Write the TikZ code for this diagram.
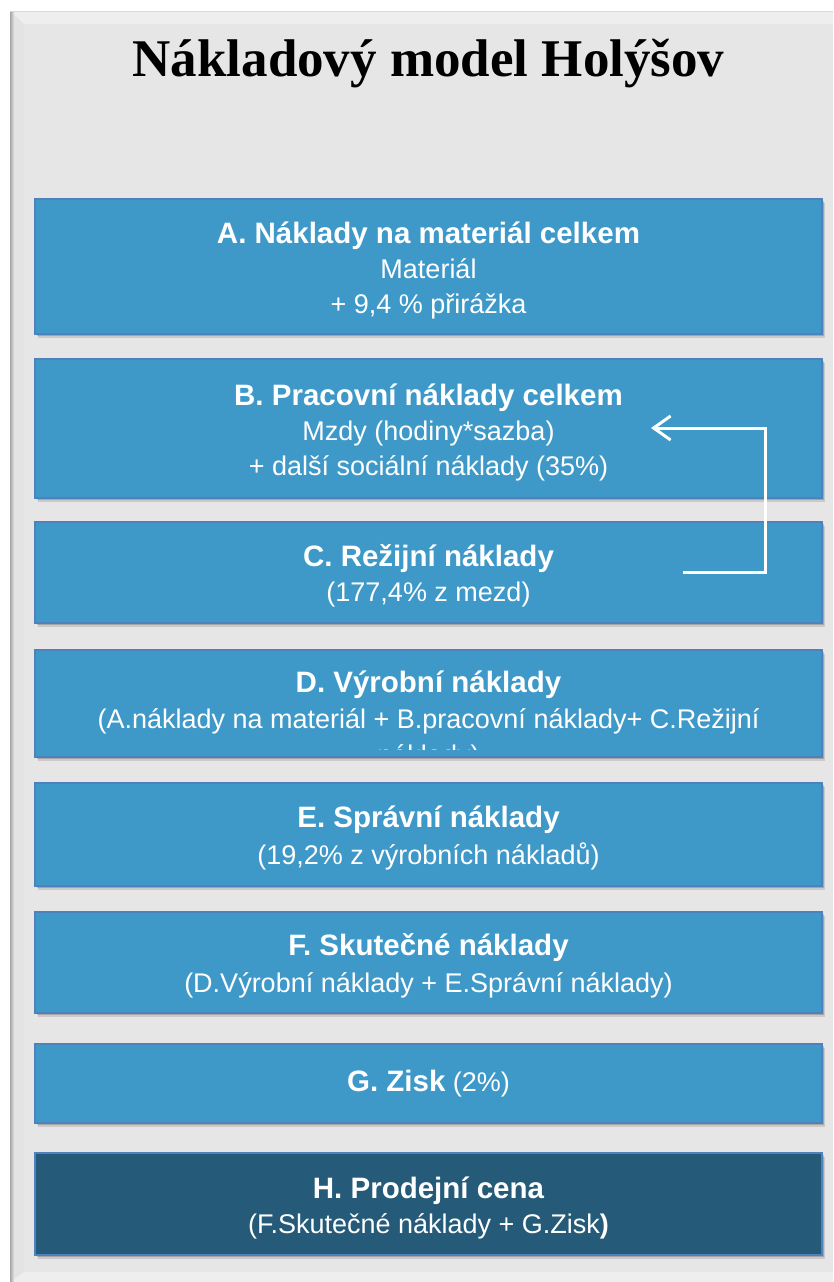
\documentclass[tikz,border=0pt]{standalone}
\usepackage{fontspec}
\setmainfont{Liberation Sans}
\newfontfamily\titlefont{Liberation Serif}
\usetikzlibrary{arrows.meta,shadows}

\definecolor{panelgray}{HTML}{E6E6E6}
\definecolor{bevellight}{HTML}{EEEEEE}
\definecolor{bevelside}{HTML}{E3E3E3}
\definecolor{boxblue}{HTML}{3E99C9}
\definecolor{boxedge}{HTML}{4F81BD}
\definecolor{boxdark}{HTML}{255B79}

% heading line inside a cost box; the strut fixes the height of the first line
\newcommand\boxhead[1]{{\fontsize{29.5}{35}\selectfont\bfseries\rule{0pt}{29pt}#1}}
\newcommand\boxheadplain[1]{{\fontsize{29.5}{35}\selectfont\bfseries #1}}

\begin{document}
\begin{tikzpicture}[x=1pt,y=-1pt,
  costbox/.style={draw=boxedge, line width=1.3pt, fill=boxblue, text=white,
    minimum width=787pt, inner sep=0pt, align=center,
    font=\fontsize{27}{35}\selectfont,
    drop shadow={shadow xshift=3pt, shadow yshift=-4pt, opacity=0.12, fill=black},
    drop shadow={shadow xshift=1.5pt, shadow yshift=-2pt, opacity=0.18, fill=black}},
  pricebox/.style={costbox, fill=boxdark},
  fbarrow/.style={draw=white, line width=3pt,
    -{Straight Barb[length=17pt, width=24pt, line width=3pt]}}
]
\useasboundingbox (0,0) rectangle (833,1282);

% page and bevelled panel
\fill[white] (0,0) rectangle (833,1282);
\fill[panelgray] (10,11) rectangle (833,1282);
\fill[bevellight] (10,11) -- (833,11) -- (833,24) -- (24,24) -- cycle;
\fill[bevelside] (10,11) -- (24,24) -- (24,1272) -- (10,1282) -- cycle;
\fill[bevellight] (10,1282) -- (24,1272) -- (833,1272) -- (833,1282) -- cycle;
\shade[left color=black!35, right color=bevelside] (10,11) rectangle (14,1282);
\draw[black!15, line width=0.8pt] (10,11) -- (833,11);

% title
\node[font=\titlefont\fontsize{53}{60}\selectfont\bfseries, anchor=base]
  (title) at (428.5,76) {Nákladový model Holýšov};

% cost boxes
\node[costbox, minimum height=135pt] (A) at (428.5,266.5)
  {\boxhead{A. Náklady na materiál celkem}\\Materiál\\+ 9,4 \% přirážka};
\node[costbox, minimum height=139pt] (B) at (428.5,428.5)
  {\boxhead{B. Pracovní náklady celkem}\\Mzdy (hodiny*sazba)\\+ další sociální náklady (35\%)};
\node[costbox, minimum height=101pt] (C) at (428.5,572.5)
  {\boxhead{C. Režijní náklady}\\(177,4\% z mezd)};
\node[costbox, minimum height=107pt] (D) at (428.5,703.5) {};
\begin{scope}
  \clip (35,650) rectangle (822,749);
  \node[text=white, align=center, inner sep=0pt, font=\fontsize{27}{36}\selectfont]
    (Dtext) at (428.5,716.5)
    {\boxhead{D. Výrobní náklady}\\(A.náklady na materiál + B.pracovní náklady+ C.Režijní\\náklady)};
\end{scope}
\node[costbox, minimum height=103pt, font=\fontsize{27}{37}\selectfont] (E) at (428.5,834.5)
  {\boxhead{E. Správní náklady}\\(19,2\% z výrobních nákladů)};
\node[costbox, minimum height=101pt, font=\fontsize{27}{37}\selectfont] (F) at (428.5,962.5)
  {\boxhead{F. Skutečné náklady}\\(D.Výrobní náklady + E.Správní náklady)};
\node[costbox, minimum height=79pt] (G) at (428.5,1083.5)
  {\boxheadplain{G. Zisk} (2\%)};
\node[pricebox, minimum height=102pt] (H) at (428.5,1204)
  {\boxhead{H. Prodejní cena}\\(F.Skutečné náklady + G.Zisk{\bfseries )}};

% overhead feeds back into labour costs
\coordinate (fbS) at (683,572);
\coordinate (fbE) at (651,428);
\draw[fbarrow] (fbS) -- ++(82,0) |- (fbE);
\end{tikzpicture}
\end{document}
